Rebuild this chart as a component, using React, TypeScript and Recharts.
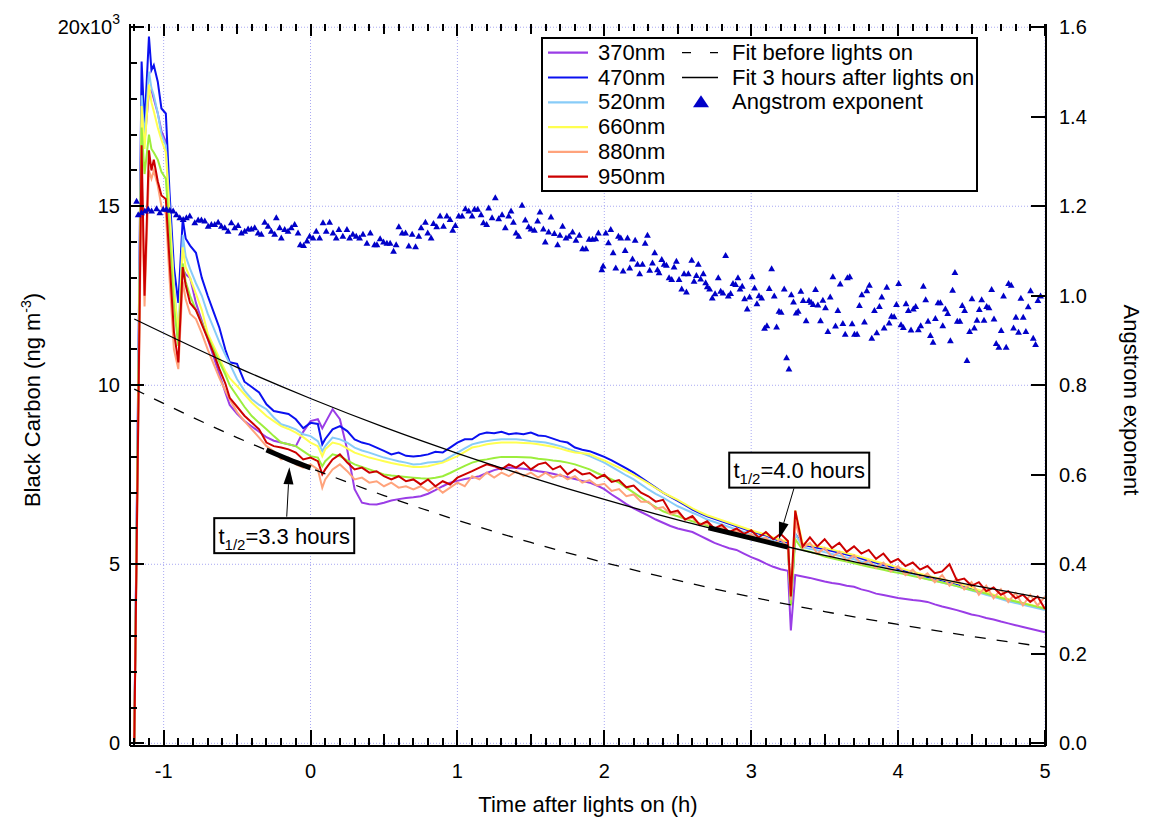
import React from 'react';
import {
  ComposedChart,
  Line,
  Scatter,
  XAxis,
  YAxis,
  ReferenceLine,
  ReferenceDot,
} from 'recharts';

const FONT = '"Liberation Sans", Arial, Helvetica, sans-serif';

// time after lights on (h), shared by every wavelength trace
const hours = [
  -1.2, -1.15, -1.13, -1.1, -1.083, -1.067, -1.04, -1.015, -0.985, -0.96, -0.93,
  -0.9, -0.87, -0.85, -0.82, -0.78, -0.74, -0.7, -0.66, -0.62, -0.58, -0.55,
  -0.5, -0.45, -0.4, -0.35, -0.3, -0.25, -0.2, -0.15, -0.1, -0.05,
  0, 0.05, 0.08, 0.1, 0.15, 0.2, 0.25, 0.3, 0.35, 0.4,
  0.45, 0.5, 0.55, 0.6, 0.65, 0.7, 0.75, 0.8, 0.85, 0.9,
  0.95, 1.0, 1.05, 1.1, 1.15, 1.2, 1.25, 1.3, 1.35, 1.4,
  1.45, 1.5, 1.55, 1.6, 1.65, 1.7, 1.75, 1.8, 1.85, 1.9,
  1.95, 2.0, 2.05, 2.1, 2.15, 2.2, 2.25, 2.3, 2.35, 2.4,
  2.45, 2.5, 2.55, 2.6, 2.65, 2.7, 2.75, 2.8, 2.85, 2.9,
  2.95, 3.0, 3.05, 3.1, 3.15, 3.2, 3.25, 3.27, 3.3, 3.35,
  3.4, 3.45, 3.5, 3.55, 3.6, 3.65, 3.7, 3.75, 3.8, 3.85,
  3.9, 3.95, 4.0, 4.05, 4.1, 4.15, 4.2, 4.25, 4.3, 4.35,
  4.4, 4.45, 4.5, 4.55, 4.6, 4.65, 4.7, 4.75, 4.8, 4.85,
  4.9, 4.95, 5.0,
];

// black carbon, thousands of ng m-3
const bc370 = [
  0, 17.9, 16.8, 18.2, 18.24, 18.0, 17.6, 17.1, 16.8, 14.9, 12.6,
  11.2, 13.25, 13.1, 13.0, 12.3, 11.8, 11.3, 10.8, 10.3, 9.8, 9.45,
  9.2, 9.0, 8.85, 8.7, 8.55, 8.45, 8.4, 8.35, 8.3, 8.7,
  9.0, 9.05, 8.8, 8.95, 9.33, 9.05, 8.2, 7.1, 6.72, 6.68,
  6.67, 6.72, 6.78, 6.82, 6.85, 6.87, 6.9, 6.97, 7.07, 7.18,
  7.28, 7.33, 7.38, 7.42, 7.46, 7.55, 7.63, 7.68, 7.7, 7.69,
  7.67, 7.64, 7.6, 7.57, 7.53, 7.48, 7.43, 7.38, 7.33, 7.28,
  7.2, 7.1, 6.95, 6.82, 6.68, 6.56, 6.46, 6.36, 6.25, 6.16,
  6.07, 6.0, 5.95, 5.9, 5.8, 5.7, 5.6, 5.52, 5.45, 5.4,
  5.3, 5.2, 5.12, 5.02, 4.93, 4.86, 4.82, 3.15, 4.7, 4.66,
  4.62, 4.57, 4.52, 4.48, 4.45, 4.4, 4.37, 4.3, 4.25, 4.18,
  4.14, 4.1, 4.06, 4.03, 4.0, 3.98, 3.95, 3.88, 3.82, 3.77,
  3.72, 3.66, 3.6, 3.56, 3.5, 3.46, 3.4, 3.35, 3.3, 3.25,
  3.2, 3.15, 3.1,
];

const bc470 = [
  0, 19.04, 17.26, 19.74, 18.8, 18.94, 18.48, 17.73, 17.59, 15.4, 13.3,
  12.3, 14.65, 14.1, 13.9, 13.7, 13.0, 12.5, 12.05, 11.6, 11.0, 10.64,
  10.6, 10.1, 9.95, 9.8, 9.47, 9.28, 9.24, 9.2, 9.05, 8.8,
  8.95, 8.92, 8.35, 8.5, 8.77, 8.86, 8.72, 8.49, 8.4, 8.35,
  8.26, 8.17, 8.07, 8.12, 8.03, 8.01, 8.03, 8.07, 8.14, 8.12,
  8.26, 8.4, 8.49, 8.49, 8.63, 8.68, 8.66, 8.7, 8.63, 8.66,
  8.63, 8.68, 8.6, 8.58, 8.51, 8.44, 8.4, 8.26, 8.2, 8.16,
  8.08, 8.0, 7.9, 7.79, 7.68, 7.56, 7.42, 7.28, 7.14, 7.0,
  6.88, 6.77, 6.65, 6.53, 6.43, 6.34, 6.27, 6.2, 6.13, 6.06,
  5.99, 5.92, 5.86, 5.8, 5.72, 5.64, 5.6, 3.9, 5.85, 5.55,
  5.5, 5.46, 5.42, 5.37, 5.32, 5.27, 5.22, 5.16, 5.1, 5.04,
  4.98, 4.93, 4.87, 4.81, 4.75, 4.7, 4.64, 4.6, 4.55, 4.5,
  4.45, 4.38, 4.32, 4.26, 4.2, 4.13, 4.07, 4.01, 3.95, 3.9,
  3.85, 3.8, 3.75,
];

const bc520 = [
  0, 18.1, 16.9, 18.76, 18.3, 18.1, 17.6, 17.0, 16.7, 15.0, 12.8,
  11.4, 14.2, 13.6, 13.25, 12.85, 12.5, 12.0, 11.6, 11.2, 10.85, 10.6,
  10.17, 9.85, 9.61, 9.45, 9.33, 9.1, 8.91, 8.85, 8.77, 8.63,
  8.58, 8.44, 8.16, 8.3, 8.54, 8.49, 8.4, 8.26, 8.18, 8.12,
  8.05, 7.98, 7.93, 7.88, 7.84, 7.79, 7.8, 7.84, 7.86, 7.88,
  8.0, 8.12, 8.24, 8.35, 8.4, 8.44, 8.47, 8.49, 8.49, 8.49,
  8.47, 8.44, 8.42, 8.4, 8.35, 8.3, 8.23, 8.16, 8.1, 8.02,
  7.93, 7.84, 7.72, 7.6, 7.48, 7.37, 7.23, 7.09, 6.97, 6.86,
  6.74, 6.62, 6.53, 6.44, 6.35, 6.25, 6.18, 6.11, 6.04, 5.97,
  5.9, 5.83, 5.78, 5.72, 5.65, 5.58, 5.52, 3.9, 5.85, 5.48,
  5.43, 5.39, 5.34, 5.29, 5.24, 5.19, 5.14, 5.08, 5.03, 4.97,
  4.92, 4.86, 4.81, 4.75, 4.7, 4.64, 4.59, 4.54, 4.49, 4.44,
  4.39, 4.33, 4.27, 4.21, 4.15, 4.09, 4.03, 3.97, 3.92, 3.87,
  3.82, 3.77, 3.72,
];

const bc590 = [
  0, 17.2, 15.9, 17.0, 16.6, 16.5, 16.3, 15.96, 15.77, 14.2, 12.2,
  11.1, 13.4, 12.9, 12.5, 12.1, 11.75, 11.35, 11.0, 10.65, 10.3, 10.0,
  9.7, 9.4, 9.14, 8.95, 8.77, 8.58, 8.4, 8.35, 8.3, 8.16,
  8.02, 7.98, 7.74, 7.88, 8.07, 8.02, 7.9, 7.79, 7.72, 7.65,
  7.58, 7.51, 7.48, 7.46, 7.44, 7.42, 7.4, 7.39, 7.42, 7.46,
  7.55, 7.65, 7.75, 7.84, 7.9, 7.93, 7.97, 8.0, 8.0, 8.0,
  7.99, 7.98, 7.95, 7.93, 7.9, 7.88, 7.84, 7.79, 7.72, 7.65,
  7.55, 7.46, 7.37, 7.28, 7.14, 7.0, 6.86, 6.72, 6.6, 6.48,
  6.4, 6.34, 6.27, 6.2, 6.14, 6.08, 6.02, 5.97, 5.92, 5.86,
  5.81, 5.76, 5.71, 5.66, 5.61, 5.56, 5.52, 3.85, 5.7, 5.4,
  5.35, 5.29, 5.22, 5.17, 5.12, 5.08, 5.03, 4.98, 4.93, 4.89,
  4.85, 4.8, 4.76, 4.72, 4.67, 4.63, 4.58, 4.54, 4.49, 4.44,
  4.39, 4.33, 4.28, 4.23, 4.18, 4.12, 4.06, 4.01, 3.96, 3.91,
  3.86, 3.81, 3.76,
];

const bc660 = [
  0, 17.8, 16.6, 18.4, 17.9, 17.65, 17.2, 16.85, 16.5, 14.8, 12.7,
  11.4, 13.85, 13.3, 13.0, 12.55, 12.1, 11.45, 11.1, 10.75, 10.4, 10.2,
  9.98, 9.75, 9.52, 9.33, 9.14, 9.0, 8.86, 8.78, 8.68, 8.55,
  8.4, 8.3, 8.02, 8.21, 8.4, 8.35, 8.24, 8.12, 8.05, 7.98,
  7.93, 7.88, 7.83, 7.79, 7.75, 7.72, 7.72, 7.74, 7.79, 7.84,
  7.93, 8.02, 8.14, 8.26, 8.3, 8.35, 8.38, 8.4, 8.4, 8.4,
  8.39, 8.38, 8.35, 8.32, 8.28, 8.23, 8.17, 8.12, 8.1, 8.08,
  7.98, 7.9, 7.8, 7.7, 7.6, 7.5, 7.38, 7.26, 7.13, 7.0,
  6.9, 6.8, 6.68, 6.56, 6.46, 6.37, 6.3, 6.23, 6.16, 6.09,
  6.02, 5.95, 5.89, 5.83, 5.75, 5.68, 5.64, 4.0, 6.5, 5.58,
  5.54, 5.5, 5.46, 5.41, 5.36, 5.31, 5.26, 5.2, 5.14, 5.08,
  5.02, 4.97, 4.91, 4.85, 4.79, 4.74, 4.68, 4.63, 4.58, 4.53,
  4.48, 4.41, 4.35, 4.28, 4.22, 4.15, 4.09, 4.03, 3.97, 3.92,
  3.87, 3.82, 3.78,
];

const bc880 = [
  0, 16.05, 12.2, 16.0, 15.77, 16.0, 15.58, 15.0, 14.8, 13.0, 11.0,
  10.45, 12.9, 12.4, 12.0, 11.85, 11.45, 11.0, 10.6, 10.2, 9.85, 9.6,
  9.25, 9.0, 8.77, 8.54, 8.3, 8.16, 7.93, 7.98, 7.79, 7.7,
  7.79, 7.65, 7.14, 7.37, 7.65, 7.79, 7.6, 7.37, 7.42, 7.28,
  7.32, 7.18, 7.28, 7.14, 7.18, 7.09, 7.18, 7.05, 7.18, 7.0,
  7.14, 7.28, 7.18, 7.46, 7.37, 7.56, 7.42, 7.56, 7.46, 7.6,
  7.46, 7.56, 7.42, 7.56, 7.42, 7.51, 7.37, 7.46, 7.28, 7.35,
  7.2, 7.25, 7.05, 7.1, 6.9, 6.95, 6.75, 6.75, 6.55, 6.6,
  6.4, 6.45, 6.25, 6.3, 6.1, 6.15, 5.95, 6.05, 5.85, 5.95,
  5.75, 5.85, 5.65, 5.75, 5.55, 5.7, 5.5, 4.0, 6.2, 5.45,
  5.6, 5.3, 5.45, 5.2, 5.35, 5.1, 5.25, 5.0, 5.1, 4.9,
  5.05, 4.8, 4.95, 4.7, 4.85, 4.6, 4.75, 4.5, 4.7, 4.4,
  4.6, 4.3, 4.5, 4.15, 4.4, 4.05, 4.3, 3.95, 4.2, 3.85,
  4.15, 3.85, 4.1,
];

const bc950 = [
  0, 16.7, 12.5, 16.56, 16.0, 16.3, 15.7, 15.3, 15.2, 13.5, 11.5,
  10.64, 13.3, 12.8, 12.3, 12.1, 11.7, 11.3, 10.9, 10.45, 10.05, 9.65,
  9.4, 9.15, 8.96, 8.77, 8.4, 8.3, 8.26, 8.21, 8.12, 7.93,
  7.98, 7.88, 7.51, 7.65, 7.93, 8.07, 7.84, 7.65, 7.7, 7.56,
  7.6, 7.46, 7.37, 7.46, 7.32, 7.37, 7.23, 7.37, 7.18, 7.32,
  7.23, 7.42, 7.51, 7.6, 7.7, 7.79, 7.74, 7.65, 7.79, 7.7,
  7.84, 7.65, 7.79, 7.84, 7.65, 7.74, 7.51, 7.65, 7.51, 7.55,
  7.4, 7.5, 7.3, 7.35, 7.15, 7.2, 7.0, 6.9, 6.75, 6.8,
  6.45, 6.5, 6.25, 6.35, 6.1, 6.2, 6.0, 6.1, 5.9, 6.0,
  5.85, 5.95, 5.75, 5.9, 5.7, 5.85, 5.65, 4.1, 6.5, 5.5,
  5.75, 5.5, 5.7, 5.45, 5.6, 5.35, 5.5, 5.3, 5.4, 5.15,
  5.3, 5.05, 5.15, 4.95, 5.05, 4.85, 4.95, 4.75, 4.8, 5.0,
  4.55, 4.6, 4.4, 4.5, 4.25, 4.35, 4.15, 4.25, 4.05, 4.15,
  3.95, 4.1, 3.75,
];

// exponential fits
const fitHours = [-1.2, -0.5, 0, 0.5, 1, 1.5, 2, 2.5, 3, 3.5, 4, 4.5, 5];
const fitBefore = [9.89, 8.54, 7.69, 6.92, 6.23, 5.61, 5.05, 4.55, 4.09, 3.68, 3.32, 2.99, 2.69];
const fitAfter = [11.85, 10.5, 9.63, 8.83, 8.1, 7.43, 6.81, 6.24, 5.73, 5.25, 4.82, 4.42, 4.05];

// fitted ranges (thick segments)
const beforeRangeHours = [-0.3, -0.15, 0];
const beforeRange = [8.19, 7.93, 7.69];
const afterRangeHours = [2.71, 3.0, 3.25];
const afterRange = [6.02, 5.73, 5.48];

// [hours, angstrom exponent]
const angstrom: [number, number][] = [
  [-1.184, 1.211], [-1.173, 1.181], [-1.151, 1.185], [-1.128, 1.189], [-1.105, 1.193],
  [-1.082, 1.189], [-1.048, 1.194], [-1.026, 1.185], [-1.003, 1.193], [-0.981, 1.193],
  [-0.958, 1.191], [-0.935, 1.189], [-0.913, 1.181], [-0.89, 1.174], [-0.867, 1.17],
  [-0.845, 1.174], [-0.822, 1.178], [-0.788, 1.163], [-0.765, 1.169], [-0.743, 1.169],
  [-0.72, 1.167], [-0.697, 1.155], [-0.675, 1.159], [-0.652, 1.159], [-0.629, 1.164],
  [-0.607, 1.155], [-0.584, 1.152], [-0.561, 1.144], [-0.539, 1.163], [-0.516, 1.152],
  [-0.493, 1.157], [-0.471, 1.14], [-0.448, 1.144], [-0.425, 1.149], [-0.403, 1.149],
  [-0.38, 1.152], [-0.357, 1.14], [-0.335, 1.137], [-0.312, 1.164], [-0.289, 1.155],
  [-0.267, 1.144], [-0.244, 1.137], [-0.233, 1.174], [-0.21, 1.152], [-0.199, 1.129],
  [-0.176, 1.148], [-0.153, 1.144], [-0.131, 1.152], [-0.108, 1.159], [-0.085, 1.14],
  [-0.07, 1.114], [-0.047, 1.112], [-0.024, 1.122], [-0.006, 1.133], [0.017, 1.129],
  [0.039, 1.144], [0.062, 1.129], [0.085, 1.163], [0.107, 1.144], [0.13, 1.164],
  [0.153, 1.14], [0.175, 1.129], [0.193, 1.148], [0.22, 1.133], [0.248, 1.148],
  [0.266, 1.129], [0.288, 1.137], [0.311, 1.133], [0.334, 1.129], [0.357, 1.137],
  [0.384, 1.117], [0.407, 1.14], [0.436, 1.114], [0.452, 1.114], [0.474, 1.127],
  [0.497, 1.12], [0.52, 1.117], [0.542, 1.117], [0.565, 1.099], [0.583, 1.114],
  [0.601, 1.154], [0.624, 1.14], [0.647, 1.14], [0.669, 1.111], [0.692, 1.137],
  [0.715, 1.109], [0.737, 1.133], [0.753, 1.152], [0.782, 1.164], [0.798, 1.14],
  [0.821, 1.129], [0.837, 1.161], [0.859, 1.154], [0.882, 1.178], [0.905, 1.155],
  [0.928, 1.178], [0.95, 1.17], [0.968, 1.146], [0.986, 1.157], [1.009, 1.178],
  [1.032, 1.178], [1.054, 1.194], [1.077, 1.189], [1.1, 1.178], [1.116, 1.193],
  [1.138, 1.193], [1.161, 1.181], [1.177, 1.163], [1.199, 1.159], [1.213, 1.196],
  [1.236, 1.174], [1.258, 1.219], [1.281, 1.172], [1.304, 1.181], [1.326, 1.152],
  [1.349, 1.178], [1.365, 1.189], [1.381, 1.164], [1.399, 1.14], [1.417, 1.133],
  [1.44, 1.202], [1.462, 1.169], [1.485, 1.154], [1.501, 1.149], [1.524, 1.146],
  [1.546, 1.167], [1.562, 1.187], [1.585, 1.149], [1.598, 1.12], [1.621, 1.142],
  [1.637, 1.176], [1.66, 1.139], [1.682, 1.114], [1.698, 1.135], [1.716, 1.155],
  [1.739, 1.129], [1.761, 1.133], [1.784, 1.142], [1.807, 1.124], [1.83, 1.135],
  [1.852, 1.105], [1.875, 1.105], [1.897, 1.126], [1.92, 1.126], [1.942, 1.127],
  [1.96, 1.14], [1.983, 1.058], [1.992, 1.066], [2.01, 1.14], [2.028, 1.118],
  [2.044, 1.148], [2.06, 1.096], [2.078, 1.062], [2.096, 1.133], [2.112, 1.129],
  [2.128, 1.055], [2.142, 1.101], [2.158, 1.129], [2.173, 1.062], [2.192, 1.082],
  [2.21, 1.124], [2.226, 1.07], [2.241, 1.049], [2.26, 1.07], [2.278, 1.117],
  [2.294, 1.135], [2.309, 1.057], [2.328, 1.073], [2.343, 1.096], [2.362, 1.058],
  [2.373, 1.051], [2.391, 1.081], [2.407, 1.07], [2.423, 1.068], [2.441, 1.04],
  [2.459, 1.036], [2.475, 1.064], [2.491, 1.077], [2.509, 1.036], [2.527, 1.015],
  [2.543, 1.049], [2.559, 1.008], [2.572, 1.049], [2.595, 1.079], [2.611, 1.032],
  [2.627, 1.045], [2.64, 1.07], [2.656, 1.037], [2.674, 1.049], [2.69, 1.029],
  [2.701, 1.02], [2.717, 1.015], [2.735, 0.995], [2.754, 1.004], [2.776, 1.04],
  [2.792, 1.01], [2.808, 1.006], [2.826, 1.09], [2.844, 0.999], [2.86, 1.005],
  [2.876, 1.027], [2.894, 1.025], [2.91, 1.04], [2.924, 1.015], [2.939, 1.021],
  [2.955, 0.993], [2.973, 0.97], [2.989, 0.997], [3.007, 1.042], [3.023, 1.017],
  [3.039, 0.982], [3.053, 1.0], [3.071, 0.995], [3.091, 0.927], [3.107, 0.933],
  [3.123, 1.016], [3.139, 1.06], [3.157, 0.999], [3.173, 0.93], [3.189, 0.965],
  [3.204, 0.963], [3.225, 1.015], [3.241, 0.861], [3.257, 0.836], [3.273, 1.002],
  [3.288, 0.986], [3.306, 0.961], [3.32, 0.965], [3.338, 1.01], [3.354, 0.989],
  [3.374, 0.944], [3.393, 0.989], [3.408, 0.985], [3.422, 0.98], [3.438, 1.014],
  [3.454, 0.979], [3.472, 0.944], [3.488, 0.99], [3.506, 0.973], [3.522, 0.92],
  [3.538, 0.997], [3.556, 1.042], [3.574, 0.932], [3.59, 0.967], [3.606, 1.026],
  [3.624, 0.938], [3.64, 0.914], [3.655, 1.04], [3.671, 1.042], [3.687, 0.937],
  [3.703, 0.914], [3.721, 0.914], [3.737, 0.978], [3.753, 1.002], [3.771, 0.941],
  [3.787, 1.011], [3.805, 1.023], [3.821, 0.905], [3.839, 0.967], [3.855, 0.917],
  [3.873, 0.976], [3.889, 0.997], [3.905, 0.928], [3.923, 1.019], [3.939, 0.939],
  [3.955, 0.954], [3.973, 0.953], [3.989, 0.98], [4.004, 1.027], [4.02, 0.935],
  [4.036, 0.929], [4.054, 0.982], [4.07, 0.967], [4.088, 0.923], [4.104, 0.97],
  [4.12, 0.976], [4.138, 0.924], [4.154, 0.933], [4.172, 1.021], [4.188, 0.991],
  [4.204, 0.943], [4.22, 0.911], [4.238, 0.896], [4.254, 0.949], [4.272, 0.984],
  [4.288, 0.984], [4.304, 0.933], [4.322, 0.97], [4.338, 0.96], [4.356, 0.899],
  [4.371, 1.012], [4.387, 1.052], [4.403, 0.943], [4.421, 0.943], [4.437, 0.978],
  [4.453, 0.967], [4.469, 0.855], [4.487, 0.92], [4.503, 0.993], [4.519, 0.928],
  [4.537, 0.945], [4.553, 0.969], [4.569, 0.991], [4.585, 0.945], [4.603, 0.976],
  [4.619, 0.973], [4.637, 1.014], [4.653, 0.948], [4.668, 0.893], [4.686, 0.885],
  [4.702, 0.922], [4.718, 0.999], [4.736, 0.885], [4.752, 1.027], [4.77, 1.023],
  [4.786, 0.928], [4.802, 0.952], [4.82, 0.918], [4.836, 0.994], [4.852, 0.952],
  [4.87, 0.92], [4.886, 0.975], [4.902, 1.011], [4.92, 0.905], [4.936, 0.891],
  [4.952, 0.989], [4.97, 0.999],
];

// axes
const xDomain = [-1.229, 5.007];
const leftDomain = [-0.075, 20.09];
const rightDomain = [-0.006, 1.6072];
const xTicks = Array.from({ length: 63 }, (_, i) => (i - 12) / 10);
const xGrid = [-1, 0, 1, 2, 3, 4, 5];
const leftTicks = Array.from({ length: 21 }, (_, i) => i);
const leftGrid = [0, 5, 10, 15, 20];
const rightTicks = [0, 0.2, 0.4, 0.6, 0.8, 1.0, 1.2, 1.4, 1.6];

// chart box: plot area = margins + axis sizes
const CHART_W = 1149;
const CHART_H = 827;
const MARGIN = { top: 24, right: 0, bottom: 0, left: 0 };
const LEFT_W = 130;
const RIGHT_W = 103;
const BOTTOM_H = 81;

const traces = [
  { key: '370nm', color: '#9a3de6', values: bc370 },
  { key: '470nm', color: '#0a10f0', values: bc470 },
  { key: '520nm', color: '#88ccf8', values: bc520 },
  { key: '660nm', color: '#ffff50', values: bc660 },
  { key: '590nm', color: '#9cee3c', values: bc590 },
  { key: '880nm', color: '#ffa37c', values: bc880 },
  { key: '950nm', color: '#cc0000', values: bc950 },
];
const legendOrder = ['370nm', '470nm', '520nm', '660nm', '880nm', '950nm'];

const toPoints = (xs: number[], ys: number[]) => xs.map((t, i) => ({ t, v: ys[i] }));
const angstromPoints = angstrom.map(([t, a]) => ({ t, a }));

const BottomLabel = (props: any) => {
  const r = Math.round(props.payload.value * 10);
  if (r % 10 !== 0) return <g />;
  return (
    <text x={props.x} y={Number(props.y) + 32} textAnchor="middle" fontSize={20} fontFamily={FONT} fill="#000">
      {r / 10}
    </text>
  );
};

const LeftLabel = (props: any) => {
  const v = props.payload.value;
  if (v % 5 !== 0) return <g />;
  return (
    <text x={Number(props.x) - 10} y={Number(props.y) + 7} textAnchor="end" fontSize={20} fontFamily={FONT} fill="#000">
      {v === 20 ? (
        <>
          20x10<tspan dy={-10} fontSize={14}>3</tspan>
        </>
      ) : (
        v
      )}
    </text>
  );
};

const RightLabel = (props: any) => (
  <text x={Number(props.x) + 13} y={Number(props.y) + 7} textAnchor="start" fontSize={20} fontFamily={FONT} fill="#000">
    {props.payload.value.toFixed(1)}
  </text>
);

// inward tick marks, drawn in a layer above the chart with the same axis mapping
const TickMarks = () => {
  const left = MARGIN.left + LEFT_W;
  const right = CHART_W - MARGIN.right - RIGHT_W;
  const top = MARGIN.top;
  const bottom = CHART_H - MARGIN.bottom - BOTTOM_H;
  const sx = (t: number) => left + ((t - xDomain[0]) / (xDomain[1] - xDomain[0])) * (right - left);
  const sl = (v: number) => bottom - ((v - leftDomain[0]) / (leftDomain[1] - leftDomain[0])) * (bottom - top);
  const sr = (v: number) => bottom - ((v - rightDomain[0]) / (rightDomain[1] - rightDomain[0])) * (bottom - top);
  const marks: React.ReactNode[] = [];
  xTicks.forEach((t) => {
    const r = Math.round(t * 10);
    const lb = r % 10 === 0 ? 16 : r % 5 === 0 ? 12 : 8;
    const lt = r % 10 === 0 ? 12 : r % 5 === 0 ? 10 : 7;
    const x = Math.round(sx(t)) - 1;
    marks.push(<rect key={`b${r}`} x={x} y={bottom - lb} width={2} height={lb} fill="#000" />);
    marks.push(<rect key={`t${r}`} x={x} y={top} width={2} height={lt} fill="#000" />);
  });
  leftTicks.forEach((v) => {
    const y = Math.round(sl(v)) - 1;
    const len = v % 5 === 0 ? 14 : 7;
    marks.push(<rect key={`l${v}`} x={left} y={y} width={len} height={2} fill="#000" />);
  });
  rightTicks.forEach((v) => {
    const y = Math.round(sr(v)) - 1;
    marks.push(<rect key={`r${v}`} x={right - 15} y={y} width={15} height={2} fill="#000" />);
  });
  return (
    <svg
      width={CHART_W}
      height={CHART_H}
      shapeRendering="crispEdges"
      style={{ position: 'absolute', left: 0, top: 0, pointerEvents: 'none', zIndex: 2 }}
    >
      {marks}
    </svg>
  );
};

const Triangle = (props: any) => {
  const { cx, cy } = props;
  if (cx == null || cy == null) return null;
  return (
    <polygon
      points={`${cx},${cy - 3.6} ${cx - 3.4},${cy + 2.4} ${cx + 3.4},${cy + 2.4}`}
      fill="#0000c8"
    />
  );
};

const NoteBox = ({ cx, cy, value }: any) => (
  <g>
    <rect x={cx - 70} y={cy - 17.5} width={140} height={35} fill="#fff" stroke="#000" strokeWidth={2} />
    <text x={cx} y={cy + 8} textAnchor="middle" fontSize={22} fontFamily={FONT} fill="#000">
      t<tspan dy={6} fontSize={15}>1/2</tspan>
      <tspan dy={-6}>={value} hours</tspan>
    </text>
  </g>
);

const Arrow = (p: any) => {
  const { x1, y1, x2, y2 } = p;
  const dx = x2 - x1;
  const dy = y2 - y1;
  const len = Math.hypot(dx, dy) || 1;
  const ux = dx / len;
  const uy = dy / len;
  const hl = 17;
  const hw = 5;
  const bx = x2 - ux * hl;
  const by = y2 - uy * hl;
  return (
    <g>
      <line x1={x1} y1={y1} x2={bx} y2={by} stroke="#000" strokeWidth={1} />
      <polygon
        points={`${x2},${y2} ${bx - uy * hw},${by + ux * hw} ${bx + uy * hw},${by - ux * hw}`}
        fill="#000"
      />
    </g>
  );
};

const Legend = () => {
  const rowY = (i: number) => 15.7 + 24.8 * i;
  const byKey = Object.fromEntries(traces.map((t) => [t.key, t.color]));
  return (
    <svg width={440} height={158} style={{ position: 'absolute', left: 540, top: 36, zIndex: 3 }}>
      <rect x={2} y={2} width={435} height={153} fill="#fff" stroke="#000" strokeWidth={2} />
      {legendOrder.map((k, i) => (
        <g key={k}>
          <line x1={8} x2={48} y1={rowY(i) + 1} y2={rowY(i) + 1} stroke={byKey[k]} strokeWidth={2.2} />
          <text x={58} y={rowY(i) + 8} fontSize={22} fontFamily={FONT} fill="#000">{k}</text>
        </g>
      ))}
      <line x1={142} x2={178} y1={rowY(0) + 1} y2={rowY(0) + 1} stroke="#000" strokeWidth={1.3} strokeDasharray="9 19" />
      <text x={192} y={rowY(0) + 8} fontSize={22} fontFamily={FONT} fill="#000">Fit before lights on</text>
      <line x1={142} x2={178} y1={rowY(1) + 1} y2={rowY(1) + 1} stroke="#000" strokeWidth={1.3} />
      <text x={192} y={rowY(1) + 8} fontSize={22} fontFamily={FONT} fill="#000">Fit 3 hours after lights on</text>
      <polygon points={`161,${rowY(2) - 6} 153,${rowY(2) + 6} 169,${rowY(2) + 6}`} fill="#0000c8" />
      <text x={192} y={rowY(2) + 8} fontSize={22} fontFamily={FONT} fill="#000">Angstrom exponent</text>
    </svg>
  );
};

const axisCommon = {
  allowDataOverflow: true,
  interval: 0 as const,
  tickLine: false,
  tickSize: 0,
  tickMargin: 0,
  axisLine: { stroke: '#000', strokeWidth: 2 },
};

export default function App() {
  return (
    <div style={{ position: 'absolute', left: 0, top: 0, width: CHART_W, height: CHART_H, background: '#fff' }}>
      <ComposedChart width={CHART_W} height={CHART_H} margin={MARGIN}>
        <XAxis
          {...axisCommon}
          xAxisId="bottom"
          dataKey="t"
          type="number"
          domain={xDomain}
          ticks={xTicks}
          tick={BottomLabel}
          height={BOTTOM_H}
          label={(p: any) => {
            const vb = p.viewBox || { x: 130, y: 746, width: 916 };
            return (
              <text x={vb.x + vb.width / 2} y={vb.y + 66} textAnchor="middle" fontSize={22} fontFamily={FONT} fill="#000">
                Time after lights on (h)
              </text>
            );
          }}
        />
        <XAxis
          {...axisCommon}
          xAxisId="top"
          orientation="top"
          dataKey="t"
          type="number"
          domain={xDomain}
          ticks={xGrid}
          tick={false}
          height={0}
        />
        <YAxis
          {...axisCommon}
          yAxisId="left"
          type="number"
          domain={leftDomain}
          ticks={leftTicks}
          tick={LeftLabel}
          width={LEFT_W}
          label={() => (
            <text
              transform="translate(40, 400) rotate(-90)"
              textAnchor="middle"
              fontSize={22}
              fontFamily={FONT}
              fill="#000"
            >
              Black Carbon (ng m<tspan dy={-9} fontSize={14}>-3</tspan>
              <tspan dy={9}>)</tspan>
            </text>
          )}
        />
        <YAxis
          {...axisCommon}
          yAxisId="right"
          orientation="right"
          type="number"
          domain={rightDomain}
          ticks={rightTicks}
          tick={RightLabel}
          width={RIGHT_W}
          label={() => (
            <text
              transform="translate(1124, 400) rotate(90)"
              textAnchor="middle"
              fontSize={22}
              fontFamily={FONT}
              fill="#000"
            >
              Angstrom exponent
            </text>
          )}
        />

        {xGrid.map((v) => (
          <ReferenceLine key={`gx${v}`} x={v} xAxisId="bottom" yAxisId="left" stroke="#a9a9f2" strokeDasharray="1 2" />
        ))}
        {leftGrid.map((v) => (
          <ReferenceLine key={`gy${v}`} y={v} xAxisId="bottom" yAxisId="left" stroke="#a9a9f2" strokeDasharray="1 2" />
        ))}

        {traces.map((tr) => (
          <Line
            key={tr.key}
            data={toPoints(hours, tr.values)}
            dataKey="v"
            xAxisId="bottom"
            yAxisId="left"
            type="linear"
            stroke={tr.color}
            strokeWidth={2}
            dot={false}
            activeDot={false}
            isAnimationActive={false}
          />
        ))}

        <Scatter
          data={angstromPoints}
          dataKey="a"
          xAxisId="bottom"
          yAxisId="right"
          shape={Triangle}
          isAnimationActive={false}
        />

        <Line
          data={toPoints(fitHours, fitBefore)}
          dataKey="v"
          xAxisId="bottom"
          yAxisId="left"
          type="monotone"
          stroke="#000"
          strokeWidth={1.3}
          strokeDasharray="11 11"
          dot={false}
          activeDot={false}
          isAnimationActive={false}
        />
        <Line
          data={toPoints(fitHours, fitAfter)}
          dataKey="v"
          xAxisId="bottom"
          yAxisId="left"
          type="monotone"
          stroke="#000"
          strokeWidth={1.3}
          dot={false}
          activeDot={false}
          isAnimationActive={false}
        />
        <Line
          data={toPoints(beforeRangeHours, beforeRange)}
          dataKey="v"
          xAxisId="bottom"
          yAxisId="left"
          type="monotone"
          stroke="#000"
          strokeWidth={5}
          dot={false}
          activeDot={false}
          isAnimationActive={false}
        />
        <Line
          data={toPoints(afterRangeHours, afterRange)}
          dataKey="v"
          xAxisId="bottom"
          yAxisId="left"
          type="monotone"
          stroke="#000"
          strokeWidth={5}
          dot={false}
          activeDot={false}
          isAnimationActive={false}
        />

        <ReferenceLine
          xAxisId="bottom"
          yAxisId="left"
          segment={[{ x: -0.162, y: 6.33 }, { x: -0.144, y: 7.71 }]}
          shape={Arrow}
        />
        <ReferenceLine
          xAxisId="bottom"
          yAxisId="left"
          segment={[{ x: 3.291, y: 7.12 }, { x: 3.189, y: 5.7 }]}
          shape={Arrow}
        />
        <ReferenceDot
          xAxisId="bottom"
          yAxisId="left"
          x={-0.179}
          y={5.8}
          shape={(p: any) => <NoteBox {...p} value="3.3" />}
        />
        <ReferenceDot
          xAxisId="bottom"
          yAxisId="left"
          x={3.327}
          y={7.63}
          shape={(p: any) => <NoteBox {...p} value="4.0" />}
        />
      </ComposedChart>
      <TickMarks />
      <Legend />
    </div>
  );
}
